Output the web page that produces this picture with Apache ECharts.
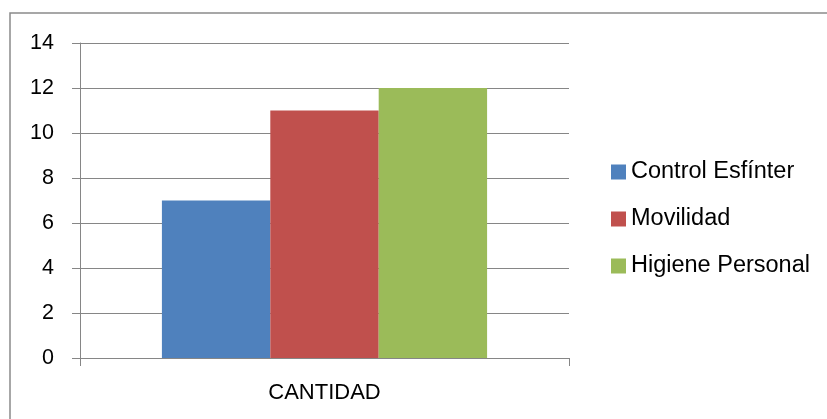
<!DOCTYPE html>
<html>
<head>
<meta charset="utf-8">
<script src="https://cdn.jsdelivr.net/npm/echarts@6/dist/echarts.min.js"></script>
<style>
html,body{margin:0;padding:0;background:#fff;}
#chart{width:827px;height:419px;}
</style>
</head>
<body>
<div id="chart"></div>
<script>
const categories = ['CANTIDAD'];
const seriesNames = ['Control Esfínter', 'Movilidad', 'Higiene Personal'];
const controlEsfinter = [7];
const movilidad = [11];
const higienePersonal = [12];
const yTicks = [0, 2, 4, 6, 8, 10, 12, 14];
const colors = ['#4F81BD', '#C0504D', '#9BBB59'];

const chart = echarts.init(document.getElementById('chart'), null, {renderer: 'canvas'});
const font = '"Liberation Sans", Arial, sans-serif';
const values = [controlEsfinter, movilidad, higienePersonal];

chart.setOption({
  animation: false,
  backgroundColor: '#fff',
  textStyle: {fontFamily: font},
  graphic: [{
    type: 'rect',
    shape: {x: 10, y: 13, width: 840, height: 440},
    style: {fill: 'none', stroke: '#8a8a8a', lineWidth: 1.5},
    silent: true
  }],
  grid: {left: 80, right: 258, top: 43, bottom: 61},
  legend: {
    orient: 'vertical',
    left: 611,
    top: 160,
    padding: 0,
    itemWidth: 15,
    itemHeight: 15,
    itemGap: 23,
    icon: 'rect',
    data: seriesNames,
    textStyle: {fontFamily: font, fontSize: 23.5, color: '#000', lineHeight: 23}
  },
  xAxis: {
    type: 'category',
    data: categories,
    axisLine: {lineStyle: {color: '#868686', width: 1}},
    axisTick: {show: true, length: 8, alignWithLabel: false, lineStyle: {color: '#868686'}},
    axisLabel: {fontFamily: font, fontSize: 22, color: '#000', margin: 24}
  },
  yAxis: {
    type: 'value',
    min: yTicks[0],
    max: yTicks[yTicks.length - 1],
    interval: 2,
    axisLine: {show: true, lineStyle: {color: '#868686', width: 1}},
    axisTick: {show: true, length: 8, inside: false, lineStyle: {color: '#868686'}},
    splitLine: {lineStyle: {color: '#868686', width: 1}},
    axisLabel: {fontFamily: font, fontSize: 21.5, color: '#000', margin: 26}
  },
  series: seriesNames.map((name, i) => ({
    name: name,
    type: 'bar',
    data: values[i],
    barGap: '0%',
    barCategoryGap: '33.5%',
    itemStyle: {color: colors[i]}
  }))
});
</script>
</body>
</html>
